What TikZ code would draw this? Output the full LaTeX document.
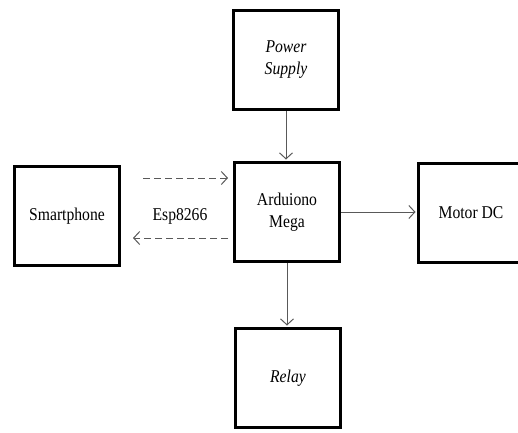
\documentclass[tikz,border=0pt]{standalone}
\usepackage{fontspec}
\setmainfont{Liberation Serif}[FakeStretch=0.87]
\usetikzlibrary{arrows.meta, calc}

\begin{document}
\begin{tikzpicture}[x=1pt,y=-1pt,
    block/.style={draw, line width=3pt, minimum width=105pt, minimum height=99pt,
      align=center, font=\fontsize{18}{22}\selectfont},
    link/.style={draw=black!65, line width=1pt, shorten >=1.5pt,
      -{Straight Barb[length=6pt,width=13pt]}},
    dashlink/.style={link, dash pattern=on 7pt off 4pt}]
      \clip (0,0) rectangle (518,432);

      \node[block] (power) at (286,60) {\textit{Power}\\\textit{Supply}};
      \node[block] (phone) at (67,216) {Smartphone};
      \node[block] (ard)   at (287,212) {Arduiono\\Mega};
      \node[block] (motor) at (471,213) {Motor DC};
      \node[block] (relay) at (288,378) {\textit{Relay}};
      \node[font=\fontsize{18}{22}\selectfont] (esp) at (180,216) {Esp8266};

      % wifi link
      \coordinate (tx) at (143,178);
      \coordinate (rx) at (228,238);
      \draw[dashlink, shorten >=5pt] (tx) -- (tx -| ard.west);
      \draw[dashlink, shorten >=0pt] (rx) -- (133,238);

      \draw[link] (power.south) -- (power.south |- ard.north);
      \draw[link] (ard.east) -- (ard.east -| motor.west);
      \draw[link] (ard.south) -- (ard.south |- relay.north);
\end{tikzpicture}
\end{document}
